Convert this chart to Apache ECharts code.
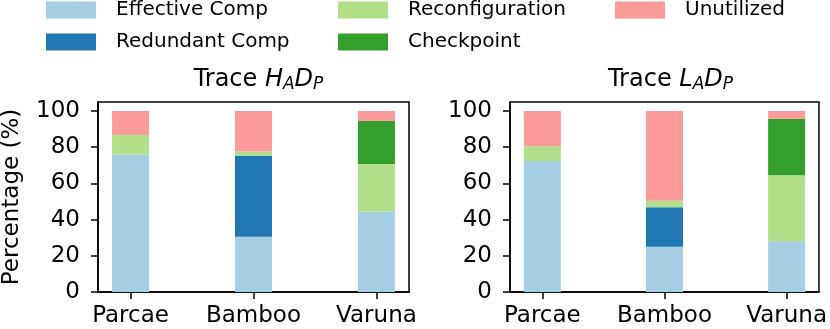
<!DOCTYPE html>
<html>
<head>
<meta charset="utf-8">
<script src="https://cdn.jsdelivr.net/npm/echarts@6/dist/echarts.min.js"></script>
<style>
  html, body { margin: 0; padding: 0; background: #fff; }
  #chart { width: 830px; height: 329px; }
</style>
</head>
<body>
<div id="chart"></div>
<script>
// categories and ticks
var systems = ['Parcae', 'Bamboo', 'Varuna'];
var yTicks = [0, 20, 40, 60, 80, 100];
var seriesNames = ['Effective Comp', 'Redundant Comp', 'Reconfiguration', 'Checkpoint', 'Unutilized'];

// trace H_A D_P, segment heights in %
var hEffective = [76.0, 30.5, 44.5];
var hRedundant = [0, 44.8, 0];
var hReconfig = [10.7, 2.4, 26.2];
var hCheckpoint = [0, 0, 23.8];
var hUnutilized = [13.3, 22.3, 5.5];

// trace L_A D_P, segment heights in %
var lEffective = [72.4, 25.0, 28.0];
var lRedundant = [0, 21.8, 0];
var lReconfig = [8.1, 3.6, 36.5];
var lCheckpoint = [0, 0, 31.2];
var lUnutilized = [19.5, 49.6, 4.3];

var colors = ['#a6cee3', '#1f78b4', '#b2df8a', '#33a02c', '#fb9a99'];
var font = 'DejaVu Sans';

var chart = echarts.init(document.getElementById('chart'));

// value first so the stack goes on the y dimension
function toPoints(arr) {
  return arr.map(function (v, i) { return [v, i]; });
}

function makeSeries(grid, stack, lists) {
  return lists.map(function (arr, k) {
    return {
      name: seriesNames[k],
      type: 'bar',
      xAxisIndex: grid,
      yAxisIndex: grid,
      stack: stack,
      barWidth: 37,
      dimensions: ['val', 'pos'],
      encode: { x: 'pos', y: 'val' },
      itemStyle: { color: colors[k] },
      data: toPoints(arr)
    };
  });
}

function xAxisFor(grid) {
  return {
    type: 'value',
    gridIndex: grid,
    min: -0.265,
    max: 2.265,
    splitLine: { show: false },
    axisLine: { show: true, onZero: false, lineStyle: { color: '#000', width: 1.5 } },
    axisTick: { show: true, customValues: [0, 1, 2], length: 7, lineStyle: { color: '#000', width: 1.5 } },
    axisLabel: {
      customValues: [0, 1, 2],
      formatter: function (v) { return systems[v]; },
      color: '#000', fontSize: 23, fontFamily: font, margin: 13
    }
  };
}

function yAxisFor(grid, withName) {
  var ax = {
    type: 'value',
    gridIndex: grid,
    min: 0,
    max: 105,
    splitLine: { show: false },
    axisLine: { show: true, onZero: false, lineStyle: { color: '#000', width: 1.5 } },
    axisTick: { show: true, customValues: yTicks, length: 7, lineStyle: { color: '#000', width: 1.5 } },
    axisLabel: { customValues: yTicks, color: '#000', fontSize: 23, fontFamily: font, margin: 18 }
  };
  if (withName) {
    ax.name = 'Percentage (%)';
    ax.nameLocation = 'middle';
    ax.nameRotate = 90;
    ax.nameGap = 74;
    ax.nameTextStyle = { color: '#000', fontSize: 23, fontFamily: font };
  }
  return ax;
}

var titleRich = {
  i: { fontStyle: 'italic', fontSize: 24, fontFamily: font, color: '#000', lineHeight: 27 },
  s: { fontStyle: 'italic', fontSize: 17, fontFamily: font, color: '#000', lineHeight: 17, verticalAlign: 'bottom', padding: [8, 0, 0, 0] }
};

function legendFor(left, names) {
  return {
    orient: 'vertical',
    left: left,
    top: 0,
    padding: 0,
    itemWidth: 50,
    itemHeight: 17,
    itemGap: 12,
    icon: 'rect',
    data: names,
    textStyle: { color: '#000', fontSize: 20, fontFamily: font, lineHeight: 17, padding: [0, 0, 0, 15] }
  };
}

var option = {
  animation: false,
  backgroundColor: '#fff',
  title: [
    {
      text: 'Trace {i|H}{s|A}{i|D}{s|P}',
      left: 253.5, top: 61, textAlign: 'center',
      textStyle: { color: '#000', fontSize: 24, fontWeight: 'normal', fontFamily: font, rich: titleRich }
    },
    {
      text: 'Trace {i|L}{s|A}{i|D}{s|P}',
      left: 665.5, top: 61, textAlign: 'center',
      textStyle: { color: '#000', fontSize: 24, fontWeight: 'normal', fontFamily: font, rich: titleRich }
    }
  ],
  legend: [
    legendFor(46, ['Effective Comp', 'Redundant Comp']),
    legendFor(338, ['Reconfiguration', 'Checkpoint']),
    legendFor(615, ['Unutilized'])
  ],
  grid: [
    { left: 98, top: 102, width: 311, height: 190, show: true, borderColor: '#000', borderWidth: 1.5, backgroundColor: 'transparent' },
    { left: 510, top: 102, width: 311, height: 190, show: true, borderColor: '#000', borderWidth: 1.5, backgroundColor: 'transparent' }
  ],
  xAxis: [xAxisFor(0), xAxisFor(1)],
  yAxis: [yAxisFor(0, true), yAxisFor(1, false)],
  series: makeSeries(0, 'h', [hEffective, hRedundant, hReconfig, hCheckpoint, hUnutilized])
    .concat(makeSeries(1, 'l', [lEffective, lRedundant, lReconfig, lCheckpoint, lUnutilized]))
};

chart.setOption(option);
</script>
</body>
</html>
